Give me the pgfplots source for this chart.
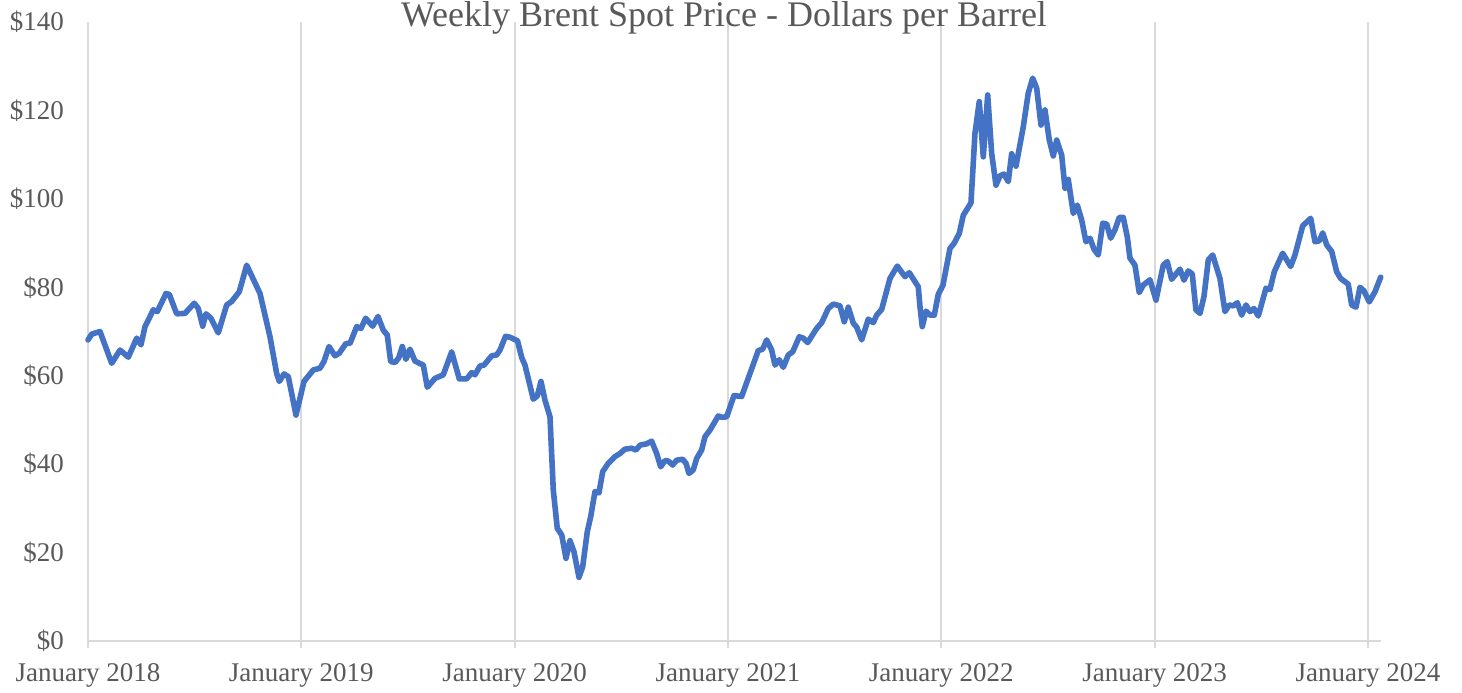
\documentclass[border=0pt]{standalone}
\usepackage{pgfplots}
\pgfplotsset{compat=1.18}
\usepackage{pgfplotstable}
\usepackage{fontspec}
\setmainfont{Liberation Serif}
\definecolor{lineblue}{HTML}{4472C4}
\definecolor{gridgray}{HTML}{D9D9D9}
\definecolor{textgray}{HTML}{595959}

% px = horizontal position (Jan 2018 at 88, Jan 2024 at 1368)
\pgfplotstableread{
px price
88 68.1
91.7 69.4
100 70.0
111.7 62.8
120 65.8
128.3 64.2
136.7 68.5
141 67.0
145 71.1
153.3 74.9
157.3 74.5
166 78.6
169.3 78.4
176.7 74.0
185 74.1
194.3 76.4
198.3 75.2
202.7 71.2
206 74.0
211 73.0
218.3 69.7
226.7 76.0
231.7 76.8
239.3 79.0
246.7 85.0
260 78.6
270 68.8
276.7 60.5
279.3 58.7
284 60.4
288.3 59.8
296 51.1
304 58.7
313.3 61.3
320 61.7
324 63.2
329 66.6
335 64.5
339.3 65.1
346 67.3
350 67.3
356.7 71.1
361 70.7
365.7 73.0
372.7 71.2
378 73.4
383.3 70.3
387.3 69.2
390.7 63.2
395 63.0
398.7 64.0
402.3 66.6
406 63.7
410 66.0
415 63.3
423.3 62.4
427.3 57.4
435 59.4
443.3 60.2
451.7 65.4
459.3 59.3
466.7 59.3
471.7 60.7
475 60.2
480 62.2
484 62.4
491.7 64.5
496.7 64.7
500 65.8
505.5 68.9
510 68.7
517.5 67.9
521.7 64.1
525 62.4
533.3 54.7
537.3 55.4
541 58.7
545 54.5
550 50.7
553.3 34.2
557.3 25.5
561.7 24.0
566 18.7
570 22.7
574 20.2
579 14.4
582.7 16.8
587.3 24.7
590.7 28.1
595 33.8
599 33.5
602.7 38.3
608.3 40.2
615 41.7
620 42.4
625 43.4
631.7 43.6
636 43.2
640 44.3
646.7 44.6
651.7 45.2
656.7 42.4
660.7 39.4
665 40.8
668.3 40.7
672.7 39.8
676.7 40.9
682.7 41.1
686 40.2
689 37.9
693.3 38.7
696.7 41.3
701.7 43.2
705 46.2
710 47.7
718.3 50.9
721.7 50.6
726.7 50.7
734 55.5
741.7 55.3
750 60.5
758.3 65.7
762.7 66.0
766.7 68.1
771.7 65.8
775 62.4
779.3 63.6
783.3 61.9
788.3 64.7
792.7 65.4
799.3 68.8
803.3 68.5
807.7 67.5
816.7 70.7
821.7 72.0
828.3 75.2
833.3 76.2
840 75.8
844.3 72.2
848.3 75.5
853.3 71.9
856.7 71.0
861.7 68.1
868.3 72.8
873.3 72.0
876.7 73.7
881.7 75.0
890 82.0
897.3 84.8
905 82.4
909.3 83.3
918.3 80.1
920 75.6
922.3 71.1
926 74.6
930 73.7
934.3 73.7
938.3 78.4
943 80.5
950 88.8
954 89.9
959.3 92.2
963.3 96.3
971 99.1
975 114.8
979.3 122.0
983.3 109.5
987.7 123.5
991.7 110.3
996 103.1
1000 105.2
1004 105.6
1008.3 103.9
1011.7 110.2
1016 107.4
1023.3 116.3
1028.3 123.9
1032.7 127.3
1036.7 125.0
1041 116.7
1045 120.1
1049.3 113.3
1053.3 109.7
1056.7 113.3
1061.7 109.9
1065 102.4
1068.3 104.4
1073.3 96.7
1077.3 98.6
1081.7 95.2
1086 90.3
1090 91.1
1094 88.6
1098.3 87.3
1102.7 94.5
1106.7 94.3
1110.7 91.1
1115 93.0
1119.3 95.8
1123.3 95.8
1127.3 91.4
1130 86.6
1135 85.0
1139.3 78.8
1143.3 80.5
1150 81.7
1156 77.1
1163.3 85.0
1167.3 85.8
1171.7 81.8
1180 84.1
1184 81.6
1188.3 83.7
1192.3 83.0
1196 74.9
1200 74.1
1204 77.9
1208.3 86.2
1212.7 87.3
1220 82.0
1225 74.5
1229.3 76.0
1233.3 75.8
1237.3 76.5
1241.7 73.7
1246 76.0
1250 74.5
1254 75.2
1258.3 73.5
1266 79.8
1270 79.5
1274.3 83.5
1282.7 87.7
1290.7 84.7
1295 87.3
1302.7 93.9
1310.7 95.6
1315 90.3
1319.3 90.5
1322.7 92.3
1326.7 89.6
1331.7 88.1
1336.7 83.5
1340.7 82.0
1348.3 80.7
1351.7 76.0
1356 75.5
1360 80.0
1364 79.2
1369.3 76.7
1375 79.0
1380.7 82.3
}\brent

\begin{document}
\begin{tikzpicture}
\begin{axis}[
  scale only axis,
  width=646.5pt, height=309.5pt,
  xmin=2018, xmax=2024.061,
  ymin=0, ymax=140,
  axis x line*=bottom,
  axis y line*=left,
  y axis line style={draw=none},
  x axis line style={draw=gridgray, line width=1pt},
  xtick={2018,2019,2020,2021,2022,2023,2024},
  xticklabels={January 2018,January 2019,January 2020,January 2021,January 2022,January 2023,January 2024},
  ytick={0,20,40,60,80,100,120,140},
  yticklabels={\$0,\$20,\$40,\$60,\$80,\$100,\$120,\$140},
  xmajorgrids,
  major grid style={draw=gridgray, line width=1pt},
  tick align=outside,
  major tick length=3.5pt,
  x tick style={draw=gridgray, line width=1pt},
  y tick style={draw=none},
  ticklabel style={font=\fontsize{13.5}{16}\selectfont, text=textgray},
  xticklabel style={anchor=base, yshift=-16.5pt},
  yticklabel style={anchor=east, xshift=-5pt},
  clip=false,
]
\addplot[lineblue, line width=2.8pt, line join=round, line cap=round]
  table[x expr={2018+(\thisrow{px}-88)/213.3333}, y=price]{\brent};
\end{axis}
\node[anchor=base, font=\fontsize{18}{21}\selectfont, text=textgray]
  at ([xshift=318pt, yshift=-2.5pt]current axis.north west) {Weekly Brent Spot Price - Dollars per Barrel};
\pgfresetboundingbox
\path[use as bounding box] ([xshift=-44pt, yshift=-25.5pt]current axis.south west) rectangle ([xshift=40.5pt, yshift=11pt]current axis.north east);
\end{tikzpicture}
\end{document}
